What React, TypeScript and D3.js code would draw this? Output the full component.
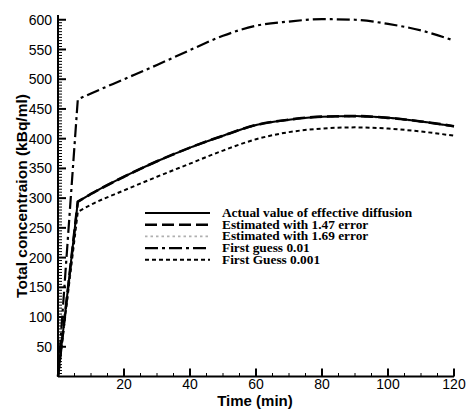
import React from "react";
import * as d3 from "d3";

const times = [0, 6, 10, 20, 30, 40, 50, 60, 70, 80, 90, 100, 110, 120];
const actual = [0, 294, 307, 336, 362, 385, 405, 423, 432, 437, 438, 435, 429, 421];
const est147 = [0, 294, 307, 336, 362, 385, 405, 423, 432, 437, 438, 435, 429, 421];
const est169 = [0, 293, 306, 335, 361, 384, 404, 422, 431, 436, 437, 434, 428, 420];
const guess01 = [0, 466, 476, 500, 524, 549, 573, 590, 597, 601, 600, 593, 582, 565];
const guess001 = [0, 277, 289, 313, 336, 358, 380, 399, 411, 417, 419, 417, 412, 405];

const xTicks = [20, 40, 60, 80, 100, 120];
const yTicks = [50, 100, 150, 200, 250, 300, 350, 400, 450, 500, 550, 600];

const seriesNames = [
  "Actual value of effective diffusion",
  "Estimated with 1.47 error",
  "Estimated with 1.69 error",
  "First guess 0.01",
  "First Guess 0.001",
];

const styles = [
  { stroke: "#000", width: 2, dash: "" },
  { stroke: "#000", width: 2.6, dash: "12,5" },
  { stroke: "#b0b0b0", width: 1.6, dash: "2.5,3" },
  { stroke: "#000", width: 2.2, dash: "13,4,3,4" },
  { stroke: "#000", width: 2, dash: "4,3" },
];

export default function App() {
  const W = 467, H = 410;
  const x = d3.scaleLinear().domain([0, 120]).range([58, 454]);
  const y = d3.scaleLinear().domain([0, 608]).range([376.5, 15]);
  const allSeries = [actual, est147, est169, guess01, guess001];
  const smooth = d3
    .line<[number, number]>()
    .x((d) => x(d[0]))
    .y((d) => y(d[1]))
    .curve(d3.curveMonotoneX);
  const pathFor = (vals: number[]) => {
    const pts = times.map((t, k) => [t, vals[k]] as [number, number]);
    const tail = smooth(pts.slice(1)) || "";
    return `M${x(pts[0][0])},${y(pts[0][1])}L` + tail.slice(1);
  };
  const xMinor = d3.range(5, 120, 5).filter((v) => v % 20 !== 0);
  const yMinor = d3.range(5, 605, 5).filter((v) => v % 50 !== 0);
  const legendX1 = 145, legendX2 = 210, legendTextX = 222;
  const legendY0 = 213, legendDy = 11.7;
  const drawOrder = [3, 4, 2, 0, 1];

  return (
    <svg
      width={W}
      height={H}
      style={{ position: "absolute", left: 0, top: 0, background: "#fff" }}
    >
      {drawOrder.map((i) => (
        <path
          key={i}
          d={pathFor(allSeries[i])}
          fill="none"
          stroke={styles[i].stroke}
          strokeWidth={styles[i].width}
          strokeDasharray={styles[i].dash}
          strokeLinejoin="miter"
        />
      ))}
      {/* axes */}
      <line x1={x(0)} x2={x(120)} y1={y(0)} y2={y(0)} stroke="#000" strokeWidth={2} />
      <line x1={x(0)} x2={x(0)} y1={y(0)} y2={y(608)} stroke="#000" strokeWidth={2} />
      {xTicks.map((t) => (
        <g key={"xt" + t}>
          <line x1={x(t)} x2={x(t)} y1={y(0)} y2={y(0) - 8} stroke="#000" strokeWidth={2} />
          <text
            x={x(t)}
            y={389}
            textAnchor="middle"
            fontFamily="Liberation Sans, Arial, sans-serif"
            fontSize={14}
          >
            {t}
          </text>
        </g>
      ))}
      {xMinor.map((t) => (
        <line key={"xm" + t} x1={x(t)} x2={x(t)} y1={y(0)} y2={y(0) - 3.5} stroke="#000" strokeWidth={1} />
      ))}
      {yTicks.map((v) => (
        <g key={"yt" + v}>
          <line x1={x(0)} x2={x(0) + 8} y1={y(v)} y2={y(v)} stroke="#000" strokeWidth={2} />
          <text
            x={52}
            y={y(v)}
            dy="0.36em"
            textAnchor="end"
            fontFamily="Liberation Sans, Arial, sans-serif"
            fontSize={14}
          >
            {v}
          </text>
        </g>
      ))}
      {yMinor.map((v) => (
        <line key={"ym" + v} x1={x(0)} x2={x(0) + 4} y1={y(v)} y2={y(v)} stroke="#000" strokeWidth={1} />
      ))}
      <text
        x={255}
        y={406}
        textAnchor="middle"
        fontFamily="Liberation Sans, Arial, sans-serif"
        fontWeight="bold"
        fontSize={15}
      >
        Time (min)
      </text>
      <text
        transform="translate(27,196) rotate(-90)"
        textAnchor="middle"
        fontFamily="Liberation Sans, Arial, sans-serif"
        fontWeight="bold"
        fontSize={15.5}
      >
        Total concentraion (kBq/ml)
      </text>
      {/* legend */}
      {seriesNames.map((name, i) => (
        <g key={"lg" + i}>
          <line
            x1={legendX1}
            x2={legendX2}
            y1={legendY0 + i * legendDy}
            y2={legendY0 + i * legendDy}
            stroke={styles[i].stroke}
            strokeWidth={styles[i].width}
            strokeDasharray={styles[i].dash}
          />
          <text
            transform={`translate(${legendTextX},${legendY0 + i * legendDy}) scale(1.16,1)`}
            dy="0.35em"
            fontFamily="Liberation Serif, Times New Roman, serif"
            fontWeight="bold"
            fontSize={11.5}
          >
            {name}
          </text>
        </g>
      ))}
    </svg>
  );
}
